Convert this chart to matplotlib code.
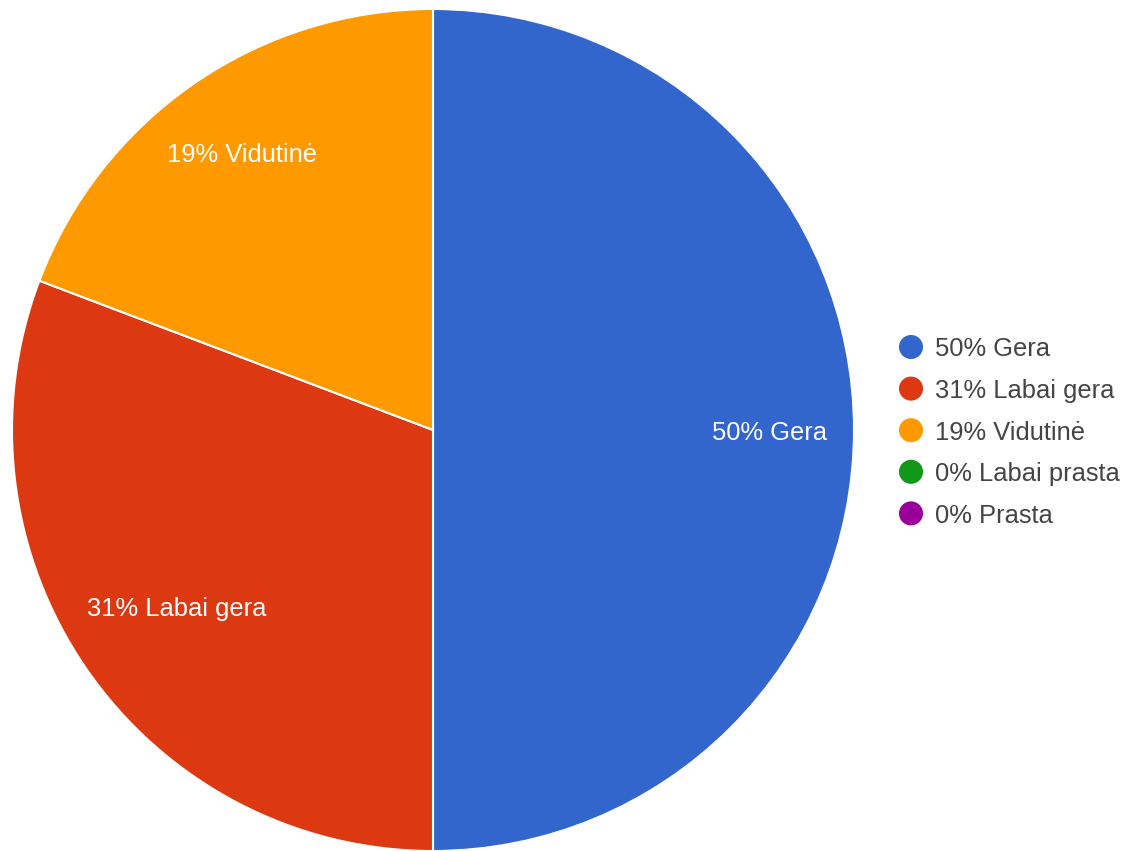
import numpy as np
import matplotlib
matplotlib.use("Agg")
import matplotlib.pyplot as plt

categories = ["Gera", "Labai gera", "Vidutinė", "Labai prasta", "Prasta"]
counts = [13, 8, 5, 0, 0]
colors = ["#3366cc", "#dc3912", "#ff9900", "#109618", "#990099"]
label_dist = [0.80, 0.74, 0.80, 0.8, 0.8]

W, H = 1131, 851
fig = plt.figure(figsize=(W / 100, H / 100), dpi=100)
plt.rcParams['font.family'] = ['Liberation Sans', 'DejaVu Sans']

total = sum(counts)
pcts = [round(100 * c / total) for c in counts]
labels = [f"{p}% {c}" for p, c in zip(pcts, categories)]

# pie axes
cx, cy, r = 433, 430, 421
ax = fig.add_axes([(cx - r) / W, 1 - (cy + r) / H, 2 * r / W, 2 * r / H])
nz = [i for i, c in enumerate(counts) if c > 0]
wedges, _ = ax.pie([counts[i] for i in nz], colors=[colors[i] for i in nz],
                   startangle=90, counterclock=False,
                   wedgeprops=dict(edgecolor="white", linewidth=1.5))
ax.set_xlim(-1, 1)
ax.set_ylim(-1, 1)
ax.set_aspect("equal")
for k, i in enumerate(nz):
    w = wedges[k]
    mid = np.deg2rad((w.theta1 + w.theta2) / 2)
    d = label_dist[i]
    ax.text(d * np.cos(mid), d * np.sin(mid), labels[i], color="white",
            fontsize=18.4, ha="center", va="center_baseline")

# legend
lax = fig.add_axes([0, 0, 1, 1])
lax.set_xlim(0, W)
lax.set_ylim(H, 0)
lax.axis("off")
y0, dy = 347, 41.6
for i, (lab, col) in enumerate(zip(labels, colors)):
    y = y0 + i * dy
    lax.scatter([911], [y], s=300, color=col, edgecolors="none")
    lax.text(935, y, lab, color="#444444", fontsize=18.4, ha="left",
             va="center_baseline")

fig.savefig("out.png", dpi=100)
